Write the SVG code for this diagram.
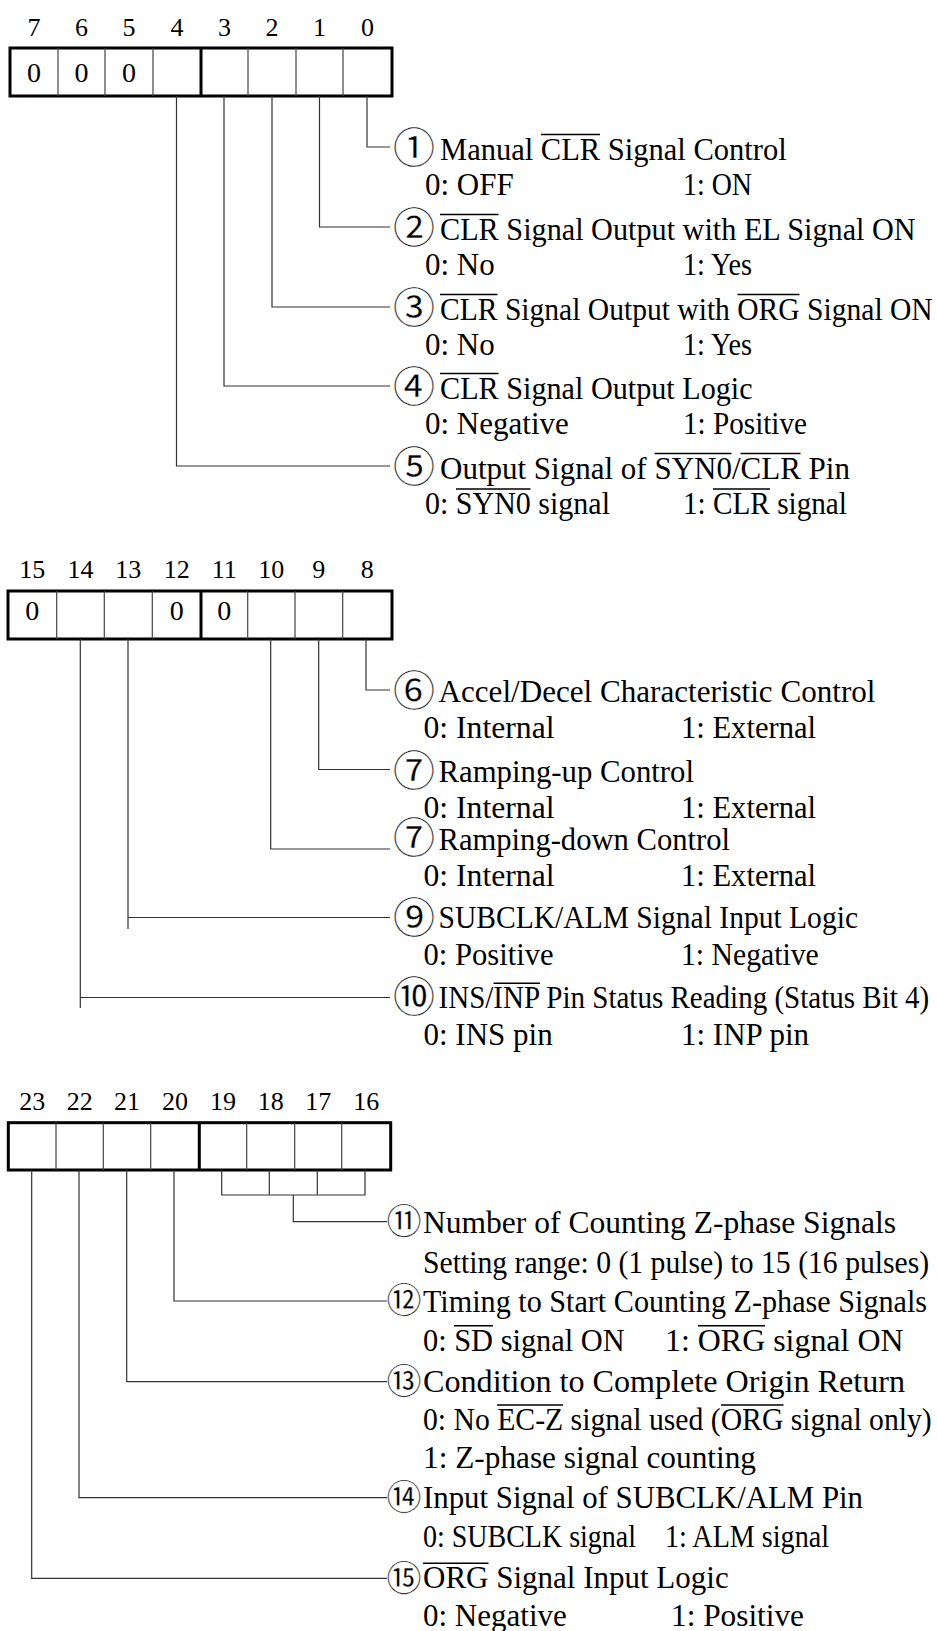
<svg xmlns="http://www.w3.org/2000/svg" width="937" height="1631" viewBox="0 0 937 1631">
<style>
text { font-family: "Liberation Serif", "Times New Roman", serif; fill: #000; }
.t { font-size: 31px; }
.b { font-size: 26px; text-anchor: middle; }
.z { font-size: 28px; text-anchor: middle; }
.c { font-family: "Noto Sans CJK JP", "DejaVu Sans", sans-serif; font-size: 42px; text-anchor: middle; stroke: #fff; stroke-width: 0.35px; }
.c3 { font-family: "Noto Sans CJK JP", "DejaVu Sans", sans-serif; font-size: 35px; text-anchor: middle; stroke: #fff; stroke-width: 0.3px; }
.ol { stroke: #000; stroke-width: 1.5; }
.box { fill: #fff; stroke: #000; stroke-width: 3; }
.dv { stroke: #444; stroke-width: 1.2; }
.dk { stroke: #000; stroke-width: 3; }
#connectors path { fill: none; stroke: #333; stroke-width: 1.2; }
</style>

<!-- Register 1: bits 7-0 -->
<g id="reg-bits-7-0">
  <g id="labels-7-0">
    <text class="b" x="34" y="36">7</text>
    <text class="b" x="81.5" y="36">6</text>
    <text class="b" x="129" y="36">5</text>
    <text class="b" x="177" y="36">4</text>
    <text class="b" x="224.5" y="36">3</text>
    <text class="b" x="272" y="36">2</text>
    <text class="b" x="319.5" y="36">1</text>
    <text class="b" x="367.5" y="36">0</text>
  </g>
  <rect class="box" x="10" y="48" width="382" height="48"/>
  <line class="dv" x1="58" y1="48" x2="58" y2="96"/>
  <line class="dv" x1="105" y1="48" x2="105" y2="96"/>
  <line class="dv" x1="153" y1="48" x2="153" y2="96"/>
  <line class="dk" x1="201" y1="48" x2="201" y2="96"/>
  <line class="dv" x1="248" y1="48" x2="248" y2="96"/>
  <line class="dv" x1="296" y1="48" x2="296" y2="96"/>
  <line class="dv" x1="343" y1="48" x2="343" y2="96"/>
  <text class="z" x="34" y="81.5">0</text>
  <text class="z" x="81.5" y="81.5">0</text>
  <text class="z" x="129" y="81.5">0</text>
</g>

<!-- Register 2: bits 15-8 -->
<g id="reg-bits-15-8">
  <g id="labels-15-8">
    <text class="b" x="32.3" y="578">15</text>
    <text class="b" x="80.5" y="578">14</text>
    <text class="b" x="128.3" y="578">13</text>
    <text class="b" x="176.7" y="578">12</text>
    <text class="b" x="224.3" y="578">11</text>
    <text class="b" x="271.3" y="578">10</text>
    <text class="b" x="318.8" y="578">9</text>
    <text class="b" x="367.3" y="578">8</text>
  </g>
  <rect class="box" x="8" y="591" width="384" height="48"/>
  <line class="dv" x1="56.7" y1="591" x2="56.7" y2="639"/>
  <line class="dv" x1="104.3" y1="591" x2="104.3" y2="639"/>
  <line class="dv" x1="152.3" y1="591" x2="152.3" y2="639"/>
  <line class="dk" x1="201" y1="591" x2="201" y2="639"/>
  <line class="dv" x1="247.7" y1="591" x2="247.7" y2="639"/>
  <line class="dv" x1="295" y1="591" x2="295" y2="639"/>
  <line class="dv" x1="342.7" y1="591" x2="342.7" y2="639"/>
  <text class="z" x="32.3" y="620">0</text>
  <text class="z" x="176.7" y="620">0</text>
  <text class="z" x="224.3" y="620">0</text>
</g>

<!-- Register 3: bits 23-16 -->
<g id="reg-bits-23-16">
  <g id="labels-23-16">
    <text class="b" x="32.2" y="1110">23</text>
    <text class="b" x="79.7" y="1110">22</text>
    <text class="b" x="127" y="1110">21</text>
    <text class="b" x="175" y="1110">20</text>
    <text class="b" x="223" y="1110">19</text>
    <text class="b" x="270.7" y="1110">18</text>
    <text class="b" x="318.2" y="1110">17</text>
    <text class="b" x="366.2" y="1110">16</text>
  </g>
  <rect class="box" x="8.3" y="1122.7" width="382.4" height="47.3"/>
  <line class="dv" x1="56" y1="1122.7" x2="56" y2="1170"/>
  <line class="dv" x1="103.3" y1="1122.7" x2="103.3" y2="1170"/>
  <line class="dv" x1="150.7" y1="1122.7" x2="150.7" y2="1170"/>
  <line class="dk" x1="199.3" y1="1122.7" x2="199.3" y2="1170"/>
  <line class="dv" x1="246.7" y1="1122.7" x2="246.7" y2="1170"/>
  <line class="dv" x1="294.7" y1="1122.7" x2="294.7" y2="1170"/>
  <line class="dv" x1="341.7" y1="1122.7" x2="341.7" y2="1170"/>
</g>

<g id="connectors">
  <path d="M367 96 V147 H390"/>
  <path d="M319.5 96 V227 H390"/>
  <path d="M272 96 V307 H390"/>
  <path d="M224 96 V386 H390"/>
  <path d="M176.5 96 V466 H390"/>

  <path d="M366 639 V690 H390"/>
  <path d="M318.7 639 V769.5 H390"/>
  <path d="M270.7 639 V849 H390"/>
  <path d="M128 639 V929 M128 917.5 H390"/>
  <path d="M80.3 639 V1008 M80.3 997.5 H390"/>

  <path d="M221.7 1170 V1195 H365 V1170 M269.3 1170 V1195 M317.3 1170 V1195 M293.3 1195 V1221.7 H387"/>
  <path d="M174 1170 V1301 H387"/>
  <path d="M126.7 1170 V1381.7 H387"/>
  <path d="M79 1170 V1497.7 H387"/>
  <path d="M31.7 1170 V1578.3 H387"/>
</g>

<!-- Bits 7-0 descriptions -->
<g id="item-1">
  <text class="c" x="414" y="162.5">①</text>
  <text class="t" transform="translate(440 159.5) scale(0.985 1)">Manual CLR Signal Control</text>
  <line class="ol" x1="541" y1="134.5" x2="600" y2="134.5"/>
  <text class="t" x="425" y="195">0: OFF</text>
  <text class="t" x="683" y="195" textLength="69" lengthAdjust="spacingAndGlyphs">1: ON</text>
</g>
<g id="item-2">
  <text class="c" x="414" y="242.5">②</text>
  <text class="t" transform="translate(440 239.5) scale(0.975 1)">CLR Signal Output with EL Signal ON</text>
  <line class="ol" x1="440" y1="214.5" x2="498.5" y2="214.5"/>
  <text class="t" x="425" y="275">0: No</text>
  <text class="t" x="683" y="275" textLength="69" lengthAdjust="spacingAndGlyphs">1: Yes</text>
</g>
<g id="item-3">
  <text class="c" x="414" y="322.5">③</text>
  <text class="t" transform="translate(440 319.5) scale(0.954 1)">CLR Signal Output with ORG Signal ON</text>
  <line class="ol" x1="440" y1="294.5" x2="497.5" y2="294.5"/>
  <line class="ol" x1="737.5" y1="294.5" x2="799.5" y2="294.5"/>
  <text class="t" x="425" y="355">0: No</text>
  <text class="t" x="683" y="355" textLength="69" lengthAdjust="spacingAndGlyphs">1: Yes</text>
</g>
<g id="item-4">
  <text class="c" x="414" y="401.5">④</text>
  <text class="t" transform="translate(440 398.5) scale(0.974 1)">CLR Signal Output Logic</text>
  <line class="ol" x1="440" y1="373.5" x2="498.5" y2="373.5"/>
  <text class="t" x="425" y="434">0: Negative</text>
  <text class="t" x="683" y="434" textLength="124" lengthAdjust="spacingAndGlyphs">1: Positive</text>
</g>
<g id="item-5">
  <text class="c" x="414" y="481.5">⑤</text>
  <text class="t" x="440" y="478.5">Output Signal of SYN0/CLR Pin</text>
  <line class="ol" x1="654.5" y1="453.5" x2="731.5" y2="453.5"/>
  <line class="ol" x1="740.5" y1="453.5" x2="800.5" y2="453.5"/>
  <text class="t" transform="translate(425 514) scale(0.968 1)">0: SYN0 signal</text>
  <line class="ol" x1="456" y1="489" x2="530.5" y2="489"/>
  <text class="t" transform="translate(683 514) scale(0.943 1)">1: CLR signal</text>
  <line class="ol" x1="713" y1="489" x2="770" y2="489"/>
</g>

<!-- Bits 15-8 descriptions -->
<g id="item-6">
  <text class="c" x="414" y="705.5">⑥</text>
  <text class="t" x="438.5" y="701.7" textLength="437" lengthAdjust="spacingAndGlyphs">Accel/Decel Characteristic Control</text>
  <text class="t" x="423.5" y="738.3" textLength="131" lengthAdjust="spacingAndGlyphs">0: Internal</text>
  <text class="t" x="681" y="738.3" textLength="135" lengthAdjust="spacingAndGlyphs">1: External</text>
</g>
<g id="item-7">
  <text class="c" x="414" y="785.5">⑦</text>
  <text class="t" x="438.5" y="781.7" textLength="255.5" lengthAdjust="spacingAndGlyphs">Ramping-up Control</text>
  <text class="t" x="423.5" y="818.3" textLength="131" lengthAdjust="spacingAndGlyphs">0: Internal</text>
  <text class="t" x="681" y="818.3" textLength="135" lengthAdjust="spacingAndGlyphs">1: External</text>
</g>
<g id="item-8">
  <text class="c" x="414" y="852.5">⑦</text>
  <text class="t" x="438.5" y="850" textLength="291.5" lengthAdjust="spacingAndGlyphs">Ramping-down Control</text>
  <text class="t" x="423.5" y="886" textLength="131" lengthAdjust="spacingAndGlyphs">0: Internal</text>
  <text class="t" x="681" y="886" textLength="135" lengthAdjust="spacingAndGlyphs">1: External</text>
</g>
<g id="item-9">
  <text class="c" x="414" y="932.5">⑨</text>
  <text class="t" x="438.5" y="928.3" textLength="419.5" lengthAdjust="spacingAndGlyphs">SUBCLK/ALM Signal Input Logic</text>
  <text class="t" x="423.5" y="965" textLength="130" lengthAdjust="spacingAndGlyphs">0: Positive</text>
  <text class="t" x="681" y="965" textLength="137.7" lengthAdjust="spacingAndGlyphs">1: Negative</text>
</g>
<g id="item-10">
  <text class="c" x="414" y="1012">⑩</text>
  <text class="t" transform="translate(438.5 1008.3) scale(0.937 1)">INS/INP Pin Status Reading (Status Bit 4)</text>
  <line class="ol" x1="493.5" y1="983.3" x2="540" y2="983.3"/>
  <text class="t" x="423.5" y="1045">0: INS pin</text>
  <text class="t" x="681" y="1045">1: INP pin</text>
</g>

<!-- Bits 23-16 descriptions -->
<g id="item-11">
  <text class="c3" x="404" y="1234">⑪</text>
  <text class="t" x="423" y="1233.3" textLength="473" lengthAdjust="spacingAndGlyphs">Number of Counting Z-phase Signals</text>
  <text class="t" transform="translate(423 1273.3) scale(0.958 1)">Setting range: 0 (1 pulse) to 15 (16 pulses)</text>
</g>
<g id="item-12">
  <text class="c3" x="404" y="1313.3">⑫</text>
  <text class="t" transform="translate(423 1311.7) scale(0.973 1)">Timing to Start Counting Z-phase Signals</text>
  <text class="t" transform="translate(423 1350.7) scale(0.98 1)">0: SD signal ON</text>
  <line class="ol" x1="454" y1="1325.7" x2="493" y2="1325.7"/>
  <text class="t" transform="translate(665 1350.7) scale(1.03 1)">1: ORG signal ON</text>
  <line class="ol" x1="698" y1="1325.7" x2="765" y2="1325.7"/>
</g>
<g id="item-13">
  <text class="c3" x="404" y="1394">⑬</text>
  <text class="t" x="423" y="1391.7" textLength="482" lengthAdjust="spacingAndGlyphs">Condition to Complete Origin Return</text>
  <text class="t" transform="translate(423 1430) scale(0.958 1)">0: No EC-Z signal used (ORG signal only)</text>
  <line class="ol" x1="497" y1="1405" x2="563" y2="1405"/>
  <line class="ol" x1="721" y1="1405" x2="783.5" y2="1405"/>
  <text class="t" x="423" y="1468.3" textLength="333" lengthAdjust="spacingAndGlyphs">1: Z-phase signal counting</text>
</g>
<g id="item-14">
  <text class="c3" x="404" y="1510">⑭</text>
  <text class="t" x="423" y="1508.3" textLength="440" lengthAdjust="spacingAndGlyphs">Input Signal of SUBCLK/ALM Pin</text>
  <text class="t" x="423" y="1546.7" textLength="213" lengthAdjust="spacingAndGlyphs">0: SUBCLK signal</text>
  <text class="t" x="665" y="1546.7" textLength="164" lengthAdjust="spacingAndGlyphs">1: ALM signal</text>
</g>
<g id="item-15">
  <text class="c3" x="404" y="1590.6">⑮</text>
  <text class="t" x="423" y="1588.3">ORG Signal Input Logic</text>
  <line class="ol" x1="423" y1="1563.3" x2="488.5" y2="1563.3"/>
  <text class="t" x="423" y="1626">0: Negative</text>
  <text class="t" x="671" y="1626" textLength="133" lengthAdjust="spacingAndGlyphs">1: Positive</text>
</g>
</svg>
